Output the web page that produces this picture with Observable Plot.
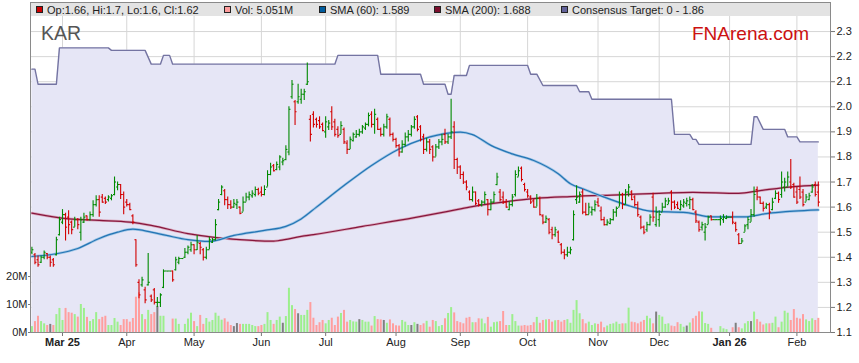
<!DOCTYPE html>
<html><head><meta charset="utf-8">
<script src="https://cdn.jsdelivr.net/npm/d3@7"></script>
<script src="https://cdn.jsdelivr.net/npm/@observablehq/plot@0.6"></script>
<style>
body{margin:0;background:#fff;}
#chart{position:relative;width:859px;height:363px;overflow:hidden;background:#fff;font-family:"Liberation Sans",Arial,sans-serif;}
#chart svg{position:absolute;left:0;top:0;}
</style></head><body><div id="chart"></div>
<script>
// ---------- DATA ----------
const firstDay = -10; // weekday index of first bar, relative to 3 Mar 2025
const opens = [
1.42,1.41,1.39,1.38,1.40,1.415,1.40,1.39,1.41,1.49,
1.54,1.57,1.56,1.54,1.52,1.55,1.50,1.54,1.565,1.55,
1.57,1.61,1.63,1.64,1.635,1.63,1.635,1.65,1.68,1.69,
1.65,1.62,1.61,1.565,1.47,1.30,1.29,1.27,1.29,1.245,
1.27,1.22,1.22,1.28,1.345,1.345,1.345,1.35,1.38,1.395,
1.40,1.42,1.43,1.45,1.43,1.455,1.43,1.40,1.43,1.46,
1.47,1.59,1.65,1.665,1.63,1.61,1.60,1.61,1.60,1.58,
1.62,1.64,1.645,1.65,1.67,1.66,1.65,1.68,1.73,1.765,
1.75,1.76,1.78,1.79,1.82,2.04,2.02,2.02,2.03,2.05,
2.09,1.95,1.97,1.95,1.945,1.93,1.90,1.92,1.98,1.94,
1.91,1.89,1.91,1.855,1.83,1.865,1.88,1.89,1.90,1.915,
1.93,1.97,1.93,1.95,1.91,1.89,1.92,1.95,1.89,1.87,
1.845,1.82,1.85,1.88,1.89,1.92,1.96,1.92,1.88,1.83,
1.86,1.84,1.80,1.84,1.86,1.89,1.86,1.88,1.92,1.79,
1.76,1.73,1.70,1.66,1.63,1.66,1.625,1.61,1.62,1.63,
1.59,1.62,1.69,1.66,1.64,1.62,1.59,1.61,1.65,1.72,
1.755,1.69,1.66,1.64,1.625,1.60,1.635,1.565,1.54,1.55,
1.51,1.49,1.50,1.45,1.42,1.41,1.42,1.47,1.63,1.62,
1.66,1.58,1.57,1.58,1.59,1.62,1.585,1.55,1.53,1.535,
1.55,1.58,1.60,1.65,1.61,1.66,1.66,1.64,1.61,1.56,
1.52,1.51,1.53,1.64,1.53,1.55,1.58,1.60,1.61,1.66,
1.62,1.61,1.59,1.605,1.615,1.61,1.63,1.58,1.54,1.52,
1.50,1.53,1.565,1.55,1.55,1.55,1.55,1.555,1.56,1.56,
1.535,1.49,1.455,1.50,1.53,1.54,1.57,1.67,1.64,1.615,
1.60,1.61,1.59,1.635,1.655,1.65,1.68,1.68,1.70,1.69,
1.66,1.67,1.66,1.62,1.63,1.66,1.69,1.66];
const highs = [
1.44,1.415,1.405,1.405,1.425,1.415,1.405,1.395,1.48,1.56,
1.59,1.575,1.585,1.545,1.56,1.555,1.56,1.575,1.565,1.58,
1.625,1.645,1.645,1.65,1.64,1.645,1.65,1.72,1.70,1.69,
1.66,1.63,1.615,1.57,1.47,1.31,1.32,1.28,1.415,1.25,
1.275,1.24,1.255,1.35,1.345,1.345,1.345,1.40,1.40,1.395,
1.435,1.445,1.46,1.45,1.487,1.46,1.435,1.44,1.48,1.475,
1.55,1.63,1.685,1.67,1.64,1.625,1.63,1.63,1.60,1.64,
1.655,1.66,1.665,1.68,1.675,1.68,1.685,1.745,1.775,1.77,
1.78,1.805,1.795,1.845,2.00,2.105,2.025,2.09,2.07,2.07,
2.175,1.965,1.98,1.955,1.96,1.935,1.96,1.945,2.00,1.95,
1.92,1.94,1.915,1.865,1.88,1.895,1.905,1.91,1.925,1.935,
1.975,1.98,1.99,1.955,1.915,1.93,1.97,1.955,1.895,1.875,
1.85,1.865,1.895,1.905,1.925,1.96,1.965,1.925,1.89,1.875,
1.87,1.845,1.85,1.87,1.89,1.91,1.89,2.03,1.94,1.795,
1.765,1.74,1.705,1.665,1.68,1.66,1.63,1.625,1.66,1.63,
1.63,1.66,1.735,1.67,1.66,1.63,1.62,1.65,1.745,1.76,
1.76,1.695,1.67,1.645,1.63,1.65,1.64,1.57,1.565,1.555,
1.52,1.52,1.505,1.455,1.43,1.44,1.44,1.585,1.685,1.66,
1.67,1.615,1.615,1.60,1.625,1.635,1.60,1.56,1.55,1.555,
1.59,1.60,1.66,1.655,1.67,1.69,1.665,1.645,1.62,1.565,
1.525,1.54,1.57,1.655,1.60,1.585,1.615,1.635,1.635,1.665,
1.625,1.62,1.625,1.63,1.635,1.64,1.635,1.585,1.545,1.54,
1.535,1.565,1.565,1.55,1.55,1.565,1.57,1.565,1.56,1.58,
1.54,1.495,1.475,1.53,1.56,1.59,1.68,1.68,1.64,1.62,
1.615,1.615,1.635,1.665,1.66,1.74,1.715,1.74,1.79,1.695,
1.68,1.72,1.67,1.65,1.655,1.69,1.70,1.70];
const lows = [
1.41,1.37,1.36,1.375,1.39,1.39,1.36,1.36,1.405,1.485,
1.53,1.465,1.49,1.49,1.52,1.51,1.465,1.535,1.545,1.545,
1.56,1.60,1.56,1.615,1.61,1.62,1.625,1.645,1.665,1.63,
1.57,1.60,1.585,1.53,1.36,1.235,1.28,1.215,1.285,1.22,
1.21,1.20,1.20,1.275,1.345,1.345,1.30,1.345,1.37,1.395,
1.395,1.41,1.42,1.41,1.427,1.41,1.385,1.39,1.43,1.455,
1.465,1.585,1.645,1.605,1.59,1.59,1.595,1.59,1.57,1.58,
1.62,1.625,1.635,1.64,1.645,1.64,1.645,1.68,1.725,1.74,
1.745,1.745,1.765,1.785,1.805,2.03,1.925,2.01,2.01,2.025,
2.085,1.86,1.915,1.915,1.91,1.90,1.875,1.905,1.905,1.88,
1.875,1.89,1.85,1.81,1.83,1.86,1.875,1.88,1.89,1.905,
1.92,1.915,1.89,1.905,1.88,1.88,1.91,1.88,1.86,1.835,
1.80,1.815,1.84,1.86,1.88,1.91,1.90,1.86,1.81,1.82,
1.81,1.78,1.80,1.83,1.845,1.85,1.85,1.87,1.75,1.73,
1.71,1.69,1.665,1.625,1.62,1.605,1.60,1.60,1.61,1.565,
1.585,1.615,1.685,1.62,1.61,1.595,1.585,1.60,1.64,1.72,
1.70,1.66,1.635,1.61,1.595,1.60,1.565,1.53,1.535,1.49,
1.47,1.48,1.455,1.41,1.39,1.40,1.41,1.465,1.61,1.615,
1.57,1.565,1.57,1.565,1.58,1.60,1.545,1.525,1.525,1.53,
1.545,1.56,1.60,1.59,1.61,1.64,1.625,1.60,1.56,1.51,
1.49,1.50,1.525,1.54,1.52,1.52,1.58,1.595,1.61,1.585,
1.59,1.59,1.585,1.595,1.60,1.59,1.585,1.535,1.50,1.505,
1.465,1.53,1.545,1.55,1.55,1.525,1.535,1.55,1.56,1.53,
1.50,1.45,1.455,1.50,1.51,1.54,1.56,1.625,1.61,1.58,
1.59,1.55,1.585,1.63,1.615,1.635,1.66,1.68,1.67,1.635,
1.61,1.63,1.60,1.62,1.625,1.655,1.64,1.60];
const closes = [
1.43,1.38,1.37,1.40,1.42,1.40,1.38,1.37,1.47,1.55,
1.57,1.52,1.53,1.51,1.55,1.53,1.55,1.56,1.55,1.57,
1.61,1.63,1.58,1.62,1.62,1.64,1.645,1.70,1.69,1.65,
1.60,1.61,1.59,1.54,1.37,1.25,1.31,1.23,1.30,1.23,
1.22,1.22,1.25,1.345,1.345,1.345,1.31,1.39,1.395,1.395,
1.42,1.44,1.45,1.43,1.46,1.44,1.40,1.43,1.47,1.47,
1.53,1.62,1.68,1.63,1.61,1.60,1.615,1.62,1.575,1.62,
1.64,1.65,1.655,1.67,1.655,1.65,1.67,1.73,1.76,1.745,
1.77,1.80,1.785,1.83,1.99,2.09,1.98,2.04,2.05,2.06,
2.10,1.89,1.93,1.93,1.92,1.905,1.94,1.935,1.92,1.89,
1.885,1.925,1.86,1.83,1.87,1.89,1.89,1.90,1.92,1.93,
1.965,1.93,1.97,1.91,1.89,1.92,1.96,1.89,1.87,1.845,
1.82,1.85,1.88,1.89,1.92,1.95,1.91,1.87,1.83,1.86,
1.83,1.80,1.84,1.86,1.87,1.86,1.88,1.90,1.79,1.76,
1.73,1.70,1.68,1.63,1.66,1.615,1.61,1.62,1.65,1.59,
1.62,1.65,1.72,1.63,1.62,1.60,1.61,1.64,1.73,1.745,
1.71,1.67,1.645,1.62,1.60,1.635,1.57,1.54,1.555,1.50,
1.49,1.51,1.46,1.42,1.41,1.42,1.43,1.57,1.64,1.65,
1.58,1.57,1.60,1.59,1.61,1.605,1.55,1.53,1.54,1.55,
1.58,1.595,1.65,1.61,1.66,1.68,1.63,1.61,1.57,1.52,
1.50,1.53,1.56,1.56,1.58,1.57,1.60,1.625,1.625,1.62,
1.60,1.595,1.61,1.62,1.625,1.63,1.59,1.545,1.51,1.53,
1.52,1.56,1.55,1.55,1.55,1.555,1.56,1.56,1.56,1.54,
1.51,1.455,1.465,1.525,1.55,1.57,1.65,1.64,1.615,1.595,
1.61,1.58,1.62,1.655,1.63,1.70,1.70,1.72,1.68,1.64,
1.62,1.64,1.61,1.64,1.645,1.68,1.65,1.62];
const volumes = [ // millions
2.1,3.9,5.8,3.9,3.1,2.5,2.9,2.5,6.4,8.6,
4.3,8.6,7.1,6.9,6.4,5.5,10.0,8.6,5.4,3.9,
4.6,7.1,4.6,5.4,5.8,2.5,2.5,5.0,3.7,2.5,
4.6,4.6,3.7,5.0,12.6,14.2,6.4,4.6,7.9,6.4,
7.1,9.3,5.8,5.8,0,0,4.8,4.8,2.9,0,
2.9,4.8,6.9,3.9,2.1,6.1,2.9,5.0,3.7,4.3,
6.9,5.8,4.4,4.9,3.7,2.5,2.1,3.2,2.9,2.9,
2.9,2.9,2.5,2.1,2.1,2.5,2.9,7.1,4.3,2.9,
4.3,5.5,3.3,5.7,15.8,9.6,8.2,6.7,6.1,6.1,
7.9,10.7,5.1,2.5,3.5,4.3,3.1,4.3,5.1,2.5,
5.5,6.8,7.9,3.7,4.3,3.8,3.7,4.6,4.3,3.7,
3.7,2.3,5.7,4.6,4.5,4.3,3.3,4.5,3.1,2.4,
2.3,4.3,3.7,2.5,2.5,3.5,2.9,2.5,3.1,4.0,
1.9,4.3,3.9,2.1,2.5,4.9,6.8,8.9,7.0,3.9,
3.5,3.1,5.1,5.4,3.5,3.5,4.9,4.8,3.1,5.4,
1.9,3.5,3.7,3.9,7.5,2.5,2.5,6.4,3.9,2.3,
2.3,2.5,2.3,2.5,3.5,5.4,3.3,4.3,4.5,4.6,
3.7,4.2,4.3,3.7,4.3,4.6,3.3,7.9,11.4,6.7,
4.6,3.1,3.7,2.5,3.1,2.9,3.7,1.7,2.3,2.9,
3.1,3.7,2.9,3.1,3.1,8.7,3.7,3.5,3.1,3.7,
4.3,5.8,4.9,3.1,7.3,6.1,5.5,2.9,3.1,2.3,
2.1,3.5,2.9,1.9,2.3,3.4,4.9,5.8,7.4,7.3,
3.2,2.9,1.5,0,0,2.1,1.3,1.0,0,1.7,
3.3,1.7,1.3,3.1,3.9,3.9,7.3,4.6,3.7,2.7,
3.1,3.1,3.3,5.5,1.7,3.7,7.6,6.9,4.3,8.2,
5.1,4.8,6.4,4.5,3.9,4.9,4.3,5.051];
const unchangedDays = [-4,31,56,57,72,77,97,105,114,116,194,204,220,225];

const sma60Days   = [-10,-2,5,12,18,23,29,34,41,48,56,66,73,78,83,92,101,110,118,126,130,134,140,147,154,162,166,170,177,185,192,204,212,223,230,239,247];
const sma60Values = [1.403,1.414,1.435,1.475,1.50,1.512,1.50,1.487,1.47,1.463,1.487,1.507,1.523,1.553,1.60,1.686,1.766,1.832,1.872,1.895,1.899,1.889,1.846,1.812,1.786,1.733,1.693,1.673,1.64,1.606,1.584,1.578,1.561,1.561,1.574,1.584,1.589];
const sma200Days   = [-10,2,12,22,29,41,49,58,69,71,78,82,98,115,126,133,144,155,166,182,195,206,221,228,239,247];
const sma200Values = [1.576,1.553,1.547,1.54,1.527,1.494,1.48,1.47,1.464,1.467,1.483,1.49,1.523,1.558,1.583,1.60,1.62,1.635,1.642,1.649,1.655,1.659,1.655,1.666,1.682,1.688];

const targetFrom   = [-10,-8,-1,16,29,33,36,90,104,118,126,128,133,153,157,169,173,200,206,208,226,229,237,241];
const targetTo     = [-9,-2,15,27,32,35,89,103,117,125,127,132,152,155,168,172,199,205,207,225,227,236,240,247];
const targetValues = [2.15,2.09,2.235,2.225,2.17,2.205,2.17,2.205,2.13,2.09,2.05,2.125,2.165,2.13,2.085,2.06,2.03,1.89,1.87,1.85,1.96,1.91,1.88,1.86];

const monthTickDays = [0,21,43,65,86,109,130,152,175,195,218,240];
const monthLabels = ["Mar 25","Apr","May","Jun","Jul","Aug","Sep","Oct","Nov","Dec","Jan 26","Feb"];
const boldLabels = ["Mar 25","Jan 26"];
const priceTicks = [1.1,1.2,1.3,1.4,1.5,1.6,1.7,1.8,1.9,2.0,2.1,2.2,2.3];
const volumeTicks = [0,10,20];
const legendItems = [
  {label:"Op:1.66, Hi:1.7, Lo:1.6, Cl:1.62", color:"#cc0000"},
  {label:"Vol: 5.051M", color:"#ff9c9c"},
  {label:"SMA (60): 1.589", color:"#005c9e"},
  {label:"SMA (200): 1.688", color:"#7c0f2e"},
  {label:"Consensus Target: 0 - 1.86", color:"#62629a"}
];
const ticker = "KAR", brand = "FNArena.com";

// ---------- LAYOUT / STYLE ----------
const W = 859, H = 363;
const margins = {marginLeft:31, marginRight:29, marginTop:16, marginBottom:31};
const xDomain = [-10.13, 250.98];
const yDomain = [1.1, 2.36];
const volDomain = [0, 112.9];
const GREEN="#008a00", RED="#d20000", VGREEN="#9cef8c", VPINK="#ff9e9e", VGRAY="#7f7f7f";
const FONT = '"Liberation Sans", Arial, sans-serif';
const baseStyle = {background:"transparent", fontFamily:FONT, fontSize:"11px", color:"#222", overflow:"visible"};

const gray = new Set(unchangedDays);
const bars = opens.map((o,k) => {
  const i = firstDay + k, c = closes[k], up = c >= o;
  return {i, o, h:highs[k], l:lows[k], c, v:volumes[k],
    color: up ? GREEN : RED, vcolor: gray.has(i) ? VGRAY : (up ? VGREEN : VPINK)};
});
const sma60 = sma60Days.map((d,k)=>({i:d, v:sma60Values[k]}));
const sma200 = sma200Days.map((d,k)=>({i:d, v:sma200Values[k]}));
const target = targetFrom.flatMap((f,k)=>[{i:f, v:targetValues[k]},{i:targetTo[k], v:targetValues[k]}]);
const labelOf = new Map(monthTickDays.map((d,k)=>[d, monthLabels[k]]));

const chart = document.getElementById("chart");

// Layer A: grid, consensus target area, axes
const plotA = Plot.plot({
  width:W, height:H, ...margins, style:baseStyle,
  x:{type:"linear", domain:xDomain, label:null},
  y:{domain:yDomain, label:null},
  marks:[
    Plot.gridY(priceTicks, {stroke:"#d6d6d6", strokeOpacity:1}),
    Plot.gridX(monthTickDays, {stroke:"#d6d6d6", strokeOpacity:1}),
    Plot.areaY(target, {x:"i", y1:yDomain[0], y2:"v", fill:"#e6e6f6"}),
    Plot.line(target, {x:"i", y:"v", stroke:"#7474a2", strokeWidth:1.4}),
    Plot.axisY(priceTicks, {anchor:"right", label:null, tickFormat:d=>d.toFixed(1), tickSize:4, tickPadding:2, stroke:"#777", color:"#222"}),
    Plot.axisX(monthTickDays, {label:null, tickFormat:d=>labelOf.get(d), tickSize:4, tickPadding:2, stroke:"#777", color:"#222"})
  ]
});
d3.select(plotA).selectAll("text").filter(function(){return boldLabels.includes(this.textContent);}).attr("font-weight","bold");
chart.appendChild(plotA);

// Layer B: volume bars with their own axis
const plotB = Plot.plot({
  width:W, height:H, ...margins, style:baseStyle,
  color:{type:"identity"},
  x:{type:"linear", domain:xDomain, axis:null, label:null},
  y:{domain:volDomain, label:null},
  marks:[
    Plot.ruleX(bars.filter(b=>b.v>0), {x:"i", y1:0, y2:"v", stroke:"vcolor", strokeWidth:2}),
    Plot.axisY(volumeTicks, {anchor:"left", label:null, tickFormat:d=>d+"M", tickSize:3, tickPadding:1, stroke:"#777", color:"#222"})
  ]
});
chart.appendChild(plotB);

// Layer C: moving averages and OHLC bars
const plotC = Plot.plot({
  width:W, height:H, ...margins, style:baseStyle,
  color:{type:"identity"},
  x:{type:"linear", domain:xDomain, axis:null, label:null},
  y:{domain:yDomain, axis:null, label:null},
  marks:[
    Plot.line(sma200, {x:"i", y:"v", stroke:"#d9a6bb", strokeWidth:2.6, curve:"monotone-x"}),
    Plot.line(sma200, {x:"i", y:"v", stroke:"#86163c", strokeWidth:1.2, curve:"monotone-x"}),
    Plot.line(sma60, {x:"i", y:"v", stroke:"#9fc6e6", strokeWidth:2.6, curve:"monotone-x"}),
    Plot.line(sma60, {x:"i", y:"v", stroke:"#2474b4", strokeWidth:1.2, curve:"monotone-x"}),
    Plot.ruleX(bars, {x:"i", y1:"l", y2:"h", stroke:"color", strokeWidth:1.1}),
    Plot.link(bars, {x1:d=>d.i-0.5, x2:"i", y1:"o", y2:"o", stroke:"color", strokeWidth:1.1}),
    Plot.link(bars, {x1:"i", x2:d=>d.i+0.5, y1:"c", y2:"c", stroke:"color", strokeWidth:1.1})
  ]
});
chart.appendChild(plotC);

// Overlay: frame, legend band, titles
const ov = d3.select(chart).append("svg").attr("width",W).attr("height",H)
  .style("font-family",FONT);
ov.append("rect").attr("x",31).attr("y",3).attr("width",799).attr("height",13).attr("fill","#e3e3e3");
ov.append("rect").attr("x",30.5).attr("y",2.5).attr("width",800).attr("height",330)
  .attr("fill","none").attr("stroke","#8a8a8a");
const legendX = [36, 224, 319, 434, 561];
legendItems.forEach((it,k)=>{
  ov.append("rect").attr("x",legendX[k]+0.5).attr("y",6.5).attr("width",6).attr("height",6)
    .attr("fill",it.color).attr("stroke","#222").attr("stroke-width",1);
  ov.append("text").attr("x",legendX[k]+11).attr("y",14).attr("font-size",11).attr("fill","#222").text(it.label);
});
ov.append("text").attr("x",41).attr("y",40).attr("font-size",19.5).attr("fill","#555").text(ticker);
ov.append("text").attr("x",692).attr("y",39.5).attr("font-size",19).attr("fill","#cc1111").text(brand);
</script></body></html>
